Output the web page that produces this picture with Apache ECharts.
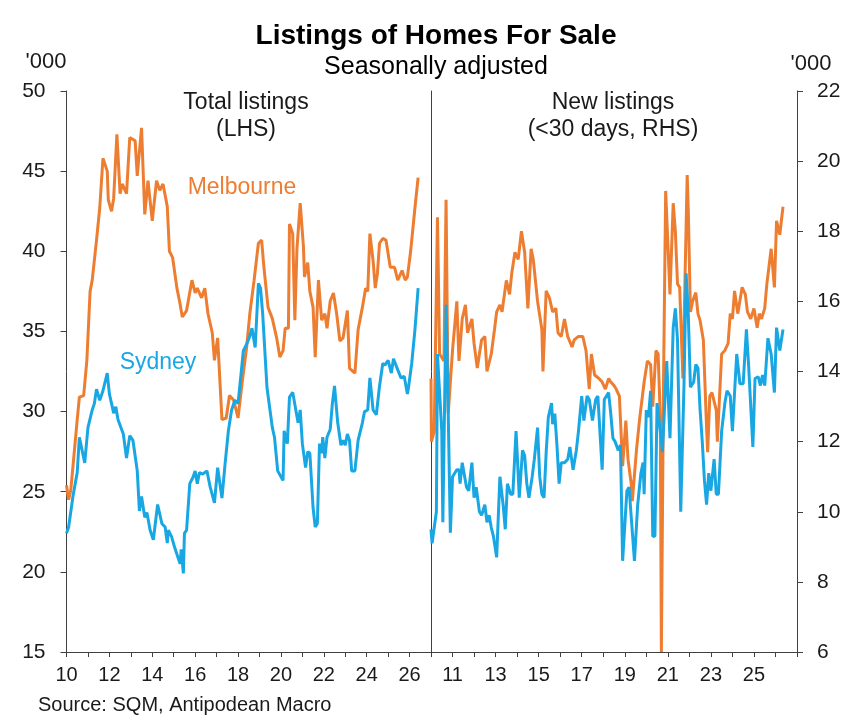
<!DOCTYPE html>
<html>
<head>
<meta charset="utf-8">
<script src="https://cdn.jsdelivr.net/npm/echarts@6/dist/echarts.min.js"></script>
<style>
  html, body { margin: 0; padding: 0; background: #fff; }
  #chart { width: 862px; height: 722px; }
</style>
</head>
<body>
<div id="chart"></div>
<script>
// total listings ('000, LHS) as [year, value]
const melTotal = [[2010.0,25.4],[2010.1,24.5],[2010.2,25.1],[2010.35,27.3],[2010.5,29.5],[2010.6,30.9],[2010.8,31.0],[2010.95,33.2],[2011.1,37.5],[2011.2,38.2],[2011.4,40.7],[2011.55,42.7],[2011.7,45.8],[2011.9,45.0],[2011.95,43.2],[2012.1,42.5],[2012.2,43.3],[2012.35,47.3],[2012.5,43.6],[2012.6,44.2],[2012.8,43.6],[2012.95,47.1],[2013.2,46.9],[2013.3,44.7],[2013.5,47.7],[2013.65,42.3],[2013.8,44.4],[2014.0,41.9],[2014.2,44.4],[2014.35,43.8],[2014.5,44.2],[2014.7,42.8],[2014.8,40.0],[2014.95,39.6],[2015.15,37.7],[2015.3,36.7],[2015.4,35.9],[2015.6,36.3],[2015.85,38.2],[2016.0,37.4],[2016.1,37.7],[2016.3,37.1],[2016.45,37.7],[2016.6,36.1],[2016.8,34.9],[2016.9,33.2],[2017.05,34.6],[2017.25,29.5],[2017.45,29.6],[2017.6,31.0],[2017.8,30.7],[2018.0,29.6],[2018.2,31.9],[2018.4,34.0],[2018.55,36.1],[2018.75,38.2],[2018.95,40.5],[2019.1,40.7],[2019.2,39.1],[2019.4,36.5],[2019.6,35.8],[2019.8,34.6],[2019.95,33.4],[2020.1,33.8],[2020.2,35.2],[2020.35,35.2],[2020.4,41.7],[2020.55,41.1],[2020.65,35.7],[2020.75,40.2],[2020.9,43.0],[2021.05,40.3],[2021.1,38.4],[2021.25,39.3],[2021.35,37.5],[2021.5,36.5],[2021.6,33.4],[2021.75,38.2],[2021.9,35.7],[2022.05,36.1],[2022.15,35.2],[2022.3,36.9],[2022.45,37.4],[2022.6,36.1],[2022.75,34.4],[2022.9,34.6],[2023.1,36.3],[2023.2,32.7],[2023.45,32.4],[2023.6,35.1],[2023.8,36.5],[2023.95,37.7],[2024.05,37.5],[2024.15,41.1],[2024.3,39.4],[2024.4,37.7],[2024.5,38.6],[2024.6,40.5],[2024.75,40.8],[2024.9,40.7],[2025.1,39.0],[2025.3,39.0],[2025.45,38.2],[2025.65,38.8],[2025.8,38.2],[2025.9,38.4],[2026.05,40.0],[2026.25,42.7],[2026.4,44.6]];

const sydTotal = [[2010.0,22.4],[2010.1,22.8],[2010.3,24.7],[2010.5,26.2],[2010.55,26.3],[2010.6,28.4],[2010.85,26.8],[2011.0,29.0],[2011.2,30.1],[2011.3,30.5],[2011.4,31.4],[2011.55,30.7],[2011.7,31.3],[2011.9,32.4],[2012.0,31.1],[2012.2,29.9],[2012.3,30.3],[2012.4,29.5],[2012.65,28.6],[2012.8,27.1],[2012.95,28.5],[2013.1,28.2],[2013.3,26.3],[2013.4,23.8],[2013.5,24.7],[2013.65,23.4],[2013.75,23.7],[2013.9,22.6],[2014.05,22.0],[2014.1,22.0],[2014.25,24.2],[2014.45,23.0],[2014.6,22.8],[2014.7,21.8],[2014.75,22.6],[2014.9,22.2],[2015.05,21.5],[2015.2,20.9],[2015.3,20.5],[2015.35,21.4],[2015.45,19.9],[2015.5,22.4],[2015.6,22.6],[2015.75,25.5],[2015.9,25.9],[2016.0,26.3],[2016.1,25.5],[2016.2,26.2],[2016.35,26.1],[2016.55,26.3],[2016.7,25.3],[2016.9,24.3],[2017.05,26.5],[2017.25,24.6],[2017.4,26.8],[2017.55,28.8],[2017.7,30.1],[2017.85,30.7],[2018.0,30.5],[2018.25,33.8],[2018.4,34.2],[2018.55,34.7],[2018.65,35.2],[2018.8,34.0],[2018.95,38.0],[2019.05,37.7],[2019.15,36.1],[2019.35,31.5],[2019.6,29.0],[2019.7,28.4],[2019.85,26.3],[2020.1,25.7],[2020.15,28.8],[2020.3,28.0],[2020.4,30.9],[2020.55,31.2],[2020.8,29.3],[2020.9,30.1],[2021.0,28.0],[2021.15,26.5],[2021.25,27.5],[2021.35,27.4],[2021.5,24.0],[2021.6,22.8],[2021.7,23.0],[2021.8,28.0],[2021.9,27.4],[2021.95,28.4],[2022.05,27.1],[2022.15,28.4],[2022.3,28.9],[2022.4,30.5],[2022.5,31.6],[2022.65,29.3],[2022.8,27.9],[2022.9,28.2],[2023.0,27.9],[2023.1,28.6],[2023.2,28.2],[2023.3,26.3],[2023.45,26.3],[2023.6,28.2],[2023.8,29.3],[2023.9,30.0],[2024.05,30.1],[2024.15,32.1],[2024.3,30.1],[2024.45,29.8],[2024.6,31.6],[2024.75,33.0],[2024.85,32.9],[2025.0,33.2],[2025.15,32.4],[2025.25,33.3],[2025.45,32.6],[2025.6,32.1],[2025.75,32.2],[2025.9,31.1],[2025.95,31.5],[2026.1,33.0],[2026.25,35.1],[2026.4,37.7]];

// new listings (<30 days, '000, RHS)
const melNew = [[2010.0,13.8],[2010.02,12.0],[2010.15,12.3],[2010.3,18.4],[2010.4,14.5],[2010.6,14.3],[2010.7,18.9],[2010.8,12.8],[2011.0,14.6],[2011.2,16.0],[2011.3,14.3],[2011.45,15.5],[2011.6,15.9],[2011.7,15.1],[2011.9,15.5],[2012.0,14.8],[2012.15,14.1],[2012.35,14.9],[2012.5,15.0],[2012.6,14.0],[2012.8,14.5],[2012.95,15.2],[2013.05,15.7],[2013.2,15.9],[2013.3,15.7],[2013.5,16.6],[2013.65,16.2],[2013.75,16.8],[2013.9,17.4],[2014.05,17.2],[2014.2,18.0],[2014.35,17.4],[2014.5,15.8],[2014.65,17.5],[2014.75,17.2],[2014.95,16.0],[2015.15,15.2],[2015.2,14.0],[2015.35,16.3],[2015.5,16.1],[2015.65,15.7],[2015.8,15.8],[2015.9,15.1],[2016.05,15.0],[2016.2,15.5],[2016.35,15.0],[2016.55,14.7],[2016.65,14.9],[2016.85,15.0],[2017.05,15.0],[2017.2,14.6],[2017.35,13.5],[2017.45,14.5],[2017.6,13.9],[2017.8,13.8],[2017.95,13.7],[2018.1,13.5],[2018.25,13.8],[2018.35,13.7],[2018.5,13.6],[2018.6,13.5],[2018.75,13.3],[2018.9,11.3],[2019.05,12.6],[2019.15,11.5],[2019.3,10.8],[2019.35,10.3],[2019.55,11.8],[2019.7,12.7],[2019.9,13.7],[2020.05,14.3],[2020.2,14.2],[2020.3,13.0],[2020.45,14.6],[2020.55,14.5],[2020.65,12.7],[2020.7,6.0],[2020.8,13.7],[2020.9,19.15],[2021.1,16.2],[2021.25,18.8],[2021.35,18.0],[2021.45,16.5],[2021.55,16.4],[2021.7,13.8],[2021.9,19.6],[2021.95,18.6],[2022.05,15.7],[2022.15,16.0],[2022.3,16.25],[2022.4,15.65],[2022.5,15.45],[2022.65,14.9],[2022.8,12.4],[2022.85,11.7],[2022.95,13.3],[2023.05,13.4],[2023.25,12.9],[2023.3,12.0],[2023.5,14.5],[2023.65,14.6],[2023.8,14.8],[2023.9,15.65],[2024.0,15.5],[2024.1,16.3],[2024.25,15.65],[2024.45,16.4],[2024.6,16.2],[2024.7,15.7],[2024.85,15.5],[2025.0,15.8],[2025.15,15.25],[2025.25,15.65],[2025.35,15.5],[2025.5,15.8],[2025.6,16.5],[2025.8,17.5],[2025.95,16.4],[2026.05,18.3],[2026.2,17.9],[2026.35,18.7]];

const sydNew = [[2010.0,9.5],[2010.05,9.1],[2010.25,10.0],[2010.3,14.5],[2010.5,12.3],[2010.55,9.7],[2010.7,15.9],[2010.8,12.8],[2010.9,9.4],[2011.0,11.0],[2011.2,11.2],[2011.3,11.2],[2011.35,10.8],[2011.45,11.4],[2011.65,10.7],[2011.75,10.6],[2011.9,11.4],[2012.0,10.4],[2012.1,10.7],[2012.25,10.0],[2012.35,9.9],[2012.5,10.2],[2012.6,9.7],[2012.7,9.9],[2012.8,9.55],[2012.9,9.3],[2013.05,8.7],[2013.2,11.0],[2013.35,10.2],[2013.45,9.5],[2013.55,10.8],[2013.7,10.5],[2013.8,10.5],[2013.95,12.3],[2014.0,11.7],[2014.1,10.4],[2014.25,11.75],[2014.35,11.6],[2014.45,10.8],[2014.55,10.4],[2014.7,11.0],[2014.8,11.5],[2014.95,12.4],[2015.05,11.0],[2015.15,10.5],[2015.25,10.4],[2015.35,11.7],[2015.45,12.7],[2015.6,13.1],[2015.65,12.5],[2015.75,12.8],[2015.85,11.9],[2015.95,10.8],[2016.05,11.4],[2016.2,11.4],[2016.35,11.5],[2016.45,11.85],[2016.6,11.2],[2016.75,11.75],[2016.85,12.3],[2017.0,13.3],[2017.1,12.6],[2017.25,13.3],[2017.35,13.2],[2017.5,12.6],[2017.65,13.2],[2017.75,13.3],[2017.95,11.2],[2018.05,13.2],[2018.15,13.3],[2018.25,13.4],[2018.35,12.8],[2018.45,12.1],[2018.55,12.0],[2018.7,11.75],[2018.8,11.9],[2018.9,8.6],[2019.1,10.6],[2019.2,10.7],[2019.3,9.85],[2019.45,8.6],[2019.6,10.2],[2019.75,11.1],[2019.85,11.4],[2019.9,10.5],[2020.0,12.9],[2020.1,12.7],[2020.2,13.45],[2020.3,9.3],[2020.4,9.3],[2020.5,13.1],[2020.65,12.3],[2020.75,11.7],[2020.95,14.3],[2021.1,12.1],[2021.25,15.25],[2021.35,15.8],[2021.45,14.9],[2021.6,10.0],[2021.75,13.6],[2021.85,16.8],[2021.95,15.65],[2022.05,13.55],[2022.2,13.7],[2022.3,14.2],[2022.4,14.1],[2022.5,12.9],[2022.6,12.0],[2022.7,10.9],[2022.8,10.2],[2022.9,11.1],[2023.0,10.6],[2023.15,11.5],[2023.25,10.5],[2023.35,10.5],[2023.5,12.3],[2023.65,13.1],[2023.75,13.45],[2023.9,13.3],[2024.0,12.3],[2024.2,14.5],[2024.35,13.65],[2024.5,13.65],[2024.65,15.2],[2024.75,14.2],[2024.95,11.85],[2025.05,13.8],[2025.2,13.85],[2025.3,13.6],[2025.4,13.9],[2025.5,13.6],[2025.65,14.95],[2025.8,14.5],[2025.95,13.4],[2026.05,15.25],[2026.2,14.6],[2026.35,15.2]];

const leftYearLabels = [2010, 2012, 2014, 2016, 2018, 2020, 2022, 2024, 2026];
const rightYearLabels = [2011, 2013, 2015, 2017, 2019, 2021, 2023, 2025];

const ORANGE = "#ED7D31";
const BLUE = "#19A7E3";
const AXIS = "#404040";
const FONT = "'Liberation Sans', Arial, sans-serif";

const chart = echarts.init(document.getElementById("chart"));

function xAxisFor(gridIndex, labels) {
  return {
    type: "value",
    gridIndex,
    min: 2010,
    max: 2027,
    interval: 1,
    axisLine: { show: true, lineStyle: { color: AXIS, width: 1 } },
    axisTick: { show: true, inside: false, length: 5, lineStyle: { color: AXIS } },
    splitLine: { show: false },
    axisLabel: {
      margin: 13,
      fontSize: 20,
      fontFamily: FONT,
      color: "#1a1a1a",
      formatter: (v) => (labels.includes(v) ? String(v).slice(2) : ""),
    },
  };
}

function text(x, y, str, opts) {
  return {
    type: "text",
    x,
    y,
    style: Object.assign({
      text: str,
      fill: "#1a1a1a",
      font: "23px " + FONT,
      textAlign: "center",
      textVerticalAlign: "middle",
    }, opts || {}),
  };
}

chart.setOption({
  animation: false,
  grid: [
    { left: 66.5, top: 91, width: 364.5, height: 561 },
    { left: 431, top: 91, width: 366, height: 561 },
  ],
  xAxis: [xAxisFor(0, leftYearLabels), xAxisFor(1, rightYearLabels)],
  yAxis: [
    {
      type: "value",
      gridIndex: 0,
      position: "left",
      min: 15,
      max: 50,
      interval: 5,
      axisLine: { show: true, lineStyle: { color: AXIS } },
      axisTick: { show: true, length: 6, lineStyle: { color: AXIS } },
      splitLine: { show: false },
      axisLabel: { margin: 21, fontSize: 21, fontFamily: FONT, color: "#1a1a1a" },
    },
    {
      type: "value",
      gridIndex: 1,
      position: "right",
      min: 6,
      max: 22,
      interval: 2,
      axisLine: { show: true, lineStyle: { color: AXIS } },
      axisTick: { show: true, length: 6, lineStyle: { color: AXIS } },
      splitLine: { show: false },
      axisLabel: { margin: 20, fontSize: 21, fontFamily: FONT, color: "#1a1a1a" },
    },
    {
      // divider between the two panels
      type: "value",
      gridIndex: 1,
      position: "left",
      min: 6,
      max: 22,
      axisLine: { show: true, lineStyle: { color: AXIS } },
      axisTick: { show: false },
      axisLabel: { show: false },
      splitLine: { show: false },
    },
  ],
  series: [
    { name: "Melbourne total", type: "line", xAxisIndex: 0, yAxisIndex: 0, data: melTotal,
      showSymbol: false, lineStyle: { color: ORANGE, width: 3 }, itemStyle: { color: ORANGE } },
    { name: "Sydney total", type: "line", xAxisIndex: 0, yAxisIndex: 0, data: sydTotal,
      showSymbol: false, lineStyle: { color: BLUE, width: 3 }, itemStyle: { color: BLUE } },
    { name: "Melbourne new", type: "line", xAxisIndex: 1, yAxisIndex: 1, data: melNew,
      showSymbol: false, lineStyle: { color: ORANGE, width: 3 }, itemStyle: { color: ORANGE } },
    { name: "Sydney new", type: "line", xAxisIndex: 1, yAxisIndex: 1, data: sydNew,
      showSymbol: false, lineStyle: { color: BLUE, width: 3 }, itemStyle: { color: BLUE } },
  ],
  graphic: [
    text(436, 36, "Listings of Homes For Sale", { font: "bold 28px " + FONT, fill: "#000" }),
    text(436, 67, "Seasonally adjusted", { font: "25px " + FONT, fill: "#000" }),
    text(46, 62, "'000", { font: "22px " + FONT }),
    text(811, 64, "'000", { font: "22px " + FONT }),
    text(246, 103, "Total listings"),
    text(246, 130, "(LHS)"),
    text(613, 103, "New listings"),
    text(613, 130, "(<30 days, RHS)"),
    text(242, 188, "Melbourne", { fill: ORANGE }),
    text(158, 363, "Sydney", { fill: BLUE }),
    text(38, 705, "Source: SQM, Antipodean Macro", { font: "20px " + FONT, textAlign: "left" }),
  ],
});
</script>
</body>
</html>
